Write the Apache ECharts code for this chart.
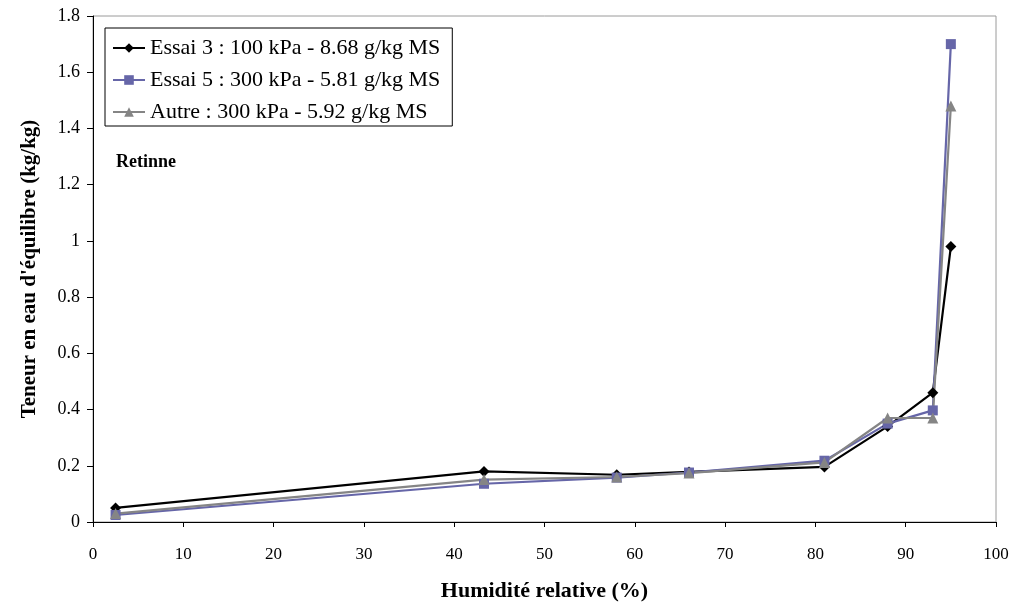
<!DOCTYPE html>
<html>
<head>
<meta charset="utf-8">
<script src="https://cdn.jsdelivr.net/npm/echarts@6/dist/echarts.min.js"></script>
<style>
  html, body { margin: 0; padding: 0; background: #fff; }
  #chart { width: 1024px; height: 604px; }
</style>
</head>
<body>
<div id="chart"></div>
<script>
// Relative humidity (%) at each measurement point
var humidite = [2.5, 43.3, 58, 66, 81, 88, 93, 95];
// Equilibrium moisture content (kg/kg)
var essai3 = [0.05, 0.18, 0.168, 0.178, 0.196, 0.34, 0.46, 0.98];
var essai5 = [0.025, 0.136, 0.158, 0.176, 0.218, 0.35, 0.397, 1.70];
var autre  = [0.03, 0.151, 0.16, 0.174, 0.212, 0.37, 0.37, 1.48];

var seriesNames = [
  'Essai 3 : 100 kPa - 8.68 g/kg MS',
  'Essai 5 : 300 kPa - 5.81 g/kg MS',
  'Autre : 300 kPa - 5.92 g/kg MS'
];
var xTicks = [0, 10, 20, 30, 40, 50, 60, 70, 80, 90, 100];

function pairs(ys) {
  return humidite.map(function (x, i) { return [x, ys[i]]; });
}

var serif = '"Liberation Serif", "DejaVu Serif", serif';
var chart = echarts.init(document.getElementById('chart'));

chart.setOption({
  animation: false,
  backgroundColor: '#fff',
  textStyle: { fontFamily: serif },
  grid: {
    left: 93, right: 28, top: 16, bottom: 82,
    containLabel: false, outerBoundsMode: 'none',
    show: true, borderColor: '#9a9a9a', borderWidth: 1
  },
  legend: {
    orient: 'vertical',
    left: 105,
    top: 28,
    padding: [9, 12, 3, 7],
    itemGap: 10,
    itemWidth: 32,
    itemHeight: 12,
    borderColor: '#000',
    borderWidth: 1,
    backgroundColor: '#fff',
    textStyle: { fontFamily: serif, fontSize: 22, color: '#000' },
    data: seriesNames
  },
  graphic: [{
    type: 'text',
    left: 116,
    top: 153,
    style: { text: 'Retinne', font: 'bold 18px ' + serif, fill: '#000' }
  }],
  xAxis: {
    type: 'value',
    min: 0, max: 100, interval: 10,
    name: 'Humidité relative (%)',
    nameLocation: 'middle',
    nameGap: 58,
    nameTextStyle: { fontFamily: serif, fontSize: 22, fontWeight: 'bold', color: '#000' },
    axisLine: { show: true, onZero: false, lineStyle: { color: '#000', width: 1 } },
    axisTick: { show: true, inside: false, length: 5, lineStyle: { color: '#000' } },
    axisLabel: {
      margin: 24, fontSize: 17, color: '#000', fontFamily: serif,
      formatter: function (v) { return xTicks.indexOf(v) >= 0 ? String(v) : ''; }
    },
    splitLine: { show: false }
  },
  yAxis: {
    type: 'value',
    min: 0, max: 1.8, interval: 0.2,
    name: "Teneur en eau d'équilibre (kg/kg)",
    nameLocation: 'middle',
    nameGap: 53,
    nameTextStyle: { fontFamily: serif, fontSize: 21, fontWeight: 'bold', color: '#000' },
    axisLine: { show: true, lineStyle: { color: '#000', width: 1 } },
    axisTick: { show: true, inside: false, length: 6, lineStyle: { color: '#000' } },
    axisLabel: {
      margin: 13, fontSize: 18, color: '#000', fontFamily: serif,
      formatter: function (v) { return String(parseFloat(v.toFixed(1))); }
    },
    splitLine: { show: false }
  },
  series: [
    {
      name: seriesNames[0], type: 'line', data: pairs(essai3),
      symbol: 'diamond', symbolSize: 11,
      lineStyle: { color: '#000', width: 2.2 },
      itemStyle: { color: '#000' }
    },
    {
      name: seriesNames[1], type: 'line', data: pairs(essai5),
      symbol: 'rect', symbolSize: 10,
      lineStyle: { color: '#6666a8', width: 2.2 },
      itemStyle: { color: '#6666a8' }
    },
    {
      name: seriesNames[2], type: 'line', data: pairs(autre),
      symbol: 'triangle', symbolSize: 11,
      lineStyle: { color: '#858585', width: 2.2 },
      itemStyle: { color: '#858585' }
    }
  ]
});
</script>
</body>
</html>
